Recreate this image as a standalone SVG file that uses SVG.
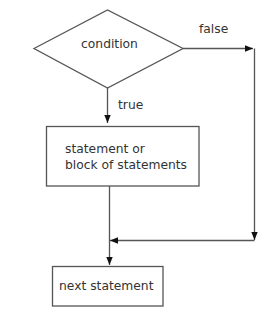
<svg xmlns="http://www.w3.org/2000/svg" width="278" height="313" viewBox="0 0 278 313">
<defs>
<style>
.shape{fill:#fff;stroke:#555;stroke-width:1.3}
.line{fill:none;stroke:#555;stroke-width:1.3}
text{font-family:"DejaVu Sans",Verdana,sans-serif;font-size:12.3px;fill:#333}
</style>
<marker id="ah" viewBox="0 0 10 10" refX="10" refY="5" markerWidth="8" markerHeight="8" markerUnits="userSpaceOnUse" orient="auto">
<path d="M0,1 L10,5 L0,9 Z" fill="#111"/>
</marker>
</defs>
<rect width="278" height="313" fill="#fff"/>
<g id="connectors">
<path class="line" d="M183,48.5 H253" marker-end="url(#ah)"/>
<path class="line" d="M254.5,48.5 V240" marker-end="url(#ah)"/>
<path class="line" d="M254.5,240.5 H110" marker-end="url(#ah)"/>
<path class="line" d="M107.5,88 V123" marker-end="url(#ah)"/>
<path class="line" d="M109.5,186 V265" marker-end="url(#ah)"/>
<text x="199" y="33">false</text>
<text x="118" y="109">true</text>
</g>
<g id="condition">
<polygon class="shape" points="34,48.5 107.5,10 183,48.5 107.5,88"/>
<text x="109.5" y="48" text-anchor="middle">condition</text>
</g>
<g id="statement">
<rect class="shape" x="46.5" y="126.5" width="152.5" height="59.5"/>
<text x="65" y="153">statement or</text>
<text x="65" y="169">block of statements</text>
</g>
<g id="next">
<rect class="shape" x="52.5" y="266.5" width="110.5" height="39.5"/>
<text x="59" y="290">next statement</text>
</g>
</svg>
